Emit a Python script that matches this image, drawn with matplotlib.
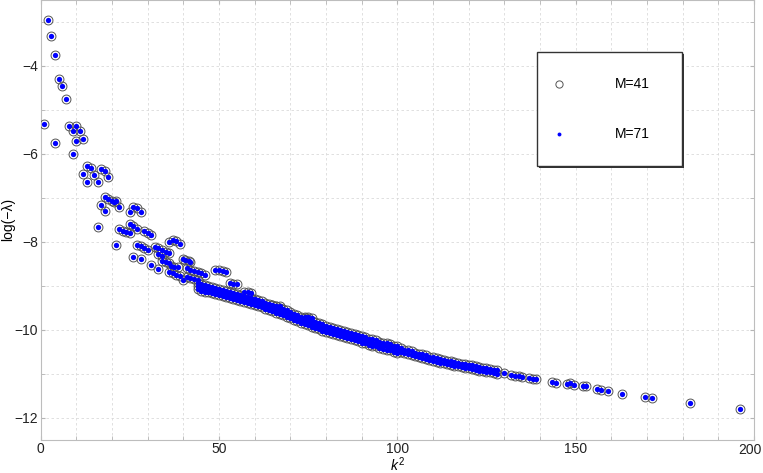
import numpy as np
import matplotlib.pyplot as plt
from matplotlib.patches import Rectangle
from matplotlib.ticker import MultipleLocator

plt.rcParams['font.family'] = ['Liberation Sans', 'DejaVu Sans']
plt.rcParams['mathtext.fontset'] = 'custom'
plt.rcParams['mathtext.rm'] = 'Liberation Sans'
plt.rcParams['mathtext.it'] = 'Liberation Sans:italic'

# isolated points, small k^2
top_k2 = [1, 2, 3, 4, 4, 5, 6, 7, 8, 9, 9, 10, 10, 11, 12]
top_logl = [-5.33, -2.96, -3.33, -3.75, -5.75, -4.29, -4.46, -4.76, -5.37, -5.47, -6.00, -5.36, -5.71, -5.47, -5.67]

# clusters between -6.2 and -7.9
mid_k2 = [12, 13, 13, 14, 15, 16, 17, 18, 19,
          17, 18, 19, 20, 20.5, 21, 22, 18,
          16, 25, 26, 27, 28,
          22, 23, 24, 25, 25, 26, 27, 29, 30, 31]
mid_logl = [-6.46, -6.27, -6.65, -6.33, -6.49, -6.64, -6.35, -6.40, -6.52,
            -7.17, -6.99, -7.03, -7.08, -7.10, -7.08, -7.20, -7.30,
            -7.67, -7.33, -7.20, -7.22, -7.32,
            -7.70, -7.75, -7.77, -7.81, -7.60, -7.63, -7.70, -7.75, -7.79, -7.85]

# clusters between -7.9 and -9.0
low_k2 = [21, 27, 28, 29, 30, 32, 33, 34, 35, 36, 36, 37, 38, 39,
          26, 28, 33, 34, 31, 33, 34, 35, 36, 36.5, 37.5, 38.5,
          36, 37, 38, 39, 40, 40.5, 41.5, 42,
          41, 42, 43, 44, 45, 46, 40, 41, 42, 43, 44, 45]
low_logl = [-8.07, -8.07, -8.10, -8.14, -8.18, -8.11, -8.15, -8.19, -8.23, -8.26, -8.01, -7.96, -7.99, -8.04,
            -8.35, -8.39, -8.28, -8.32, -8.53, -8.61, -8.43, -8.46, -8.49, -8.55, -8.57, -8.58,
            -8.68, -8.72, -8.76, -8.78, -8.39, -8.42, -8.44, -8.46,
            -8.60, -8.63, -8.66, -8.69, -8.72, -8.75, -8.86, -8.80, -8.82, -8.84, -8.87, -9.02]

# small groups sitting above the main band
side_k2 = [49, 50, 51, 52, 53, 54, 55, 57, 58, 59, 65, 66, 67, 74, 75, 76]
side_logl = [-8.65, -8.64, -8.66, -8.68, -8.93, -8.95, -8.97, -9.15, -9.14, -9.17,
             -9.44, -9.45, -9.47, -9.71, -9.72, -9.73]

# dense band k^2 = 44..100
band_k2 = [44, 44, 44, 45, 45, 45, 46, 46, 46, 47, 47, 47, 48, 48, 48,
           49, 49, 49, 50, 50, 50, 51, 51, 51, 52, 52, 52, 53, 53, 53,
           54, 54, 54, 55, 55, 55, 56, 56, 56, 57, 57, 57, 58, 58, 58,
           59, 59, 59, 60, 60, 60, 61, 61, 61, 62, 62, 62, 63, 63, 63,
           64, 64, 64, 65, 65, 65, 66, 66, 66, 67, 67, 67, 68, 68, 68,
           69, 69, 69, 70, 70, 70, 71, 71, 71, 72, 72, 72, 73, 73, 73,
           74, 74, 74, 75, 75, 75, 76, 76, 76, 77, 77, 77, 78, 78, 78,
           79, 79, 79, 80, 80, 80, 81, 81, 81, 82, 82, 82, 83, 83, 83,
           84, 84, 84, 85, 85, 85, 86, 86, 86, 87, 87, 87, 88, 88, 88,
           89, 89, 89, 90, 90, 90, 91, 91, 91, 92, 92, 92, 93, 93, 93,
           94, 94, 94, 95, 95, 95, 96, 96, 96, 97, 97, 97, 98, 98, 98,
           99, 99, 99, 100, 100, 100]
band_logl = [-8.94, -9.01, -9.08, -8.97, -9.04, -9.11, -8.99, -9.06, -9.13, -9.01, -9.08, -9.15, -9.03, -9.10, -9.17,
             -9.05, -9.12, -9.19, -9.07, -9.14, -9.21, -9.09, -9.16, -9.23, -9.12, -9.19, -9.26, -9.14, -9.21, -9.28,
             -9.16, -9.23, -9.30, -9.19, -9.26, -9.33, -9.21, -9.28, -9.35, -9.23, -9.30, -9.37, -9.25, -9.32, -9.39,
             -9.28, -9.35, -9.42, -9.30, -9.37, -9.44, -9.33, -9.40, -9.47, -9.35, -9.42, -9.49, -9.38, -9.45, -9.52,
             -9.41, -9.48, -9.55, -9.44, -9.51, -9.58, -9.47, -9.54, -9.61, -9.50, -9.57, -9.64, -9.53, -9.60, -9.67,
             -9.56, -9.63, -9.70, -9.59, -9.66, -9.73, -9.63, -9.70, -9.77, -9.66, -9.73, -9.80, -9.70, -9.77, -9.84,
             -9.73, -9.80, -9.87, -9.76, -9.83, -9.90, -9.79, -9.86, -9.93, -9.82, -9.89, -9.96, -9.85, -9.92, -9.99,
             -9.88, -9.95, -10.02, -9.91, -9.98, -10.05, -9.93, -10.00, -10.07, -9.96, -10.03, -10.10, -9.98, -10.05, -10.12,
             -10.01, -10.08, -10.15, -10.03, -10.10, -10.17, -10.05, -10.12, -10.19, -10.08, -10.15, -10.22, -10.10, -10.17, -10.24,
             -10.12, -10.19, -10.26, -10.15, -10.22, -10.29, -10.17, -10.24, -10.31, -10.20, -10.27, -10.34, -10.22, -10.29, -10.36,
             -10.24, -10.31, -10.38, -10.27, -10.34, -10.41, -10.29, -10.36, -10.43, -10.31, -10.38, -10.45, -10.33, -10.40, -10.47,
             -10.36, -10.43, -10.50, -10.38, -10.45, -10.52]

# thinner band k^2 = 101..128
thin_k2 = [101, 101, 102, 102, 103, 103, 104, 104, 105, 105, 106, 106, 107, 107,
           108, 108, 109, 109, 110, 110, 111, 111, 112, 112, 113, 113, 114, 114,
           115, 115, 116, 116, 117, 117, 118, 118, 119, 119, 120, 120, 121, 121,
           122, 122, 123, 123, 124, 124, 125, 125, 126, 126, 127, 127, 128, 128]
thin_logl = [-10.42, -10.50, -10.45, -10.53, -10.47, -10.55, -10.49, -10.57, -10.52, -10.60, -10.54, -10.62, -10.56, -10.64,
             -10.58, -10.66, -10.61, -10.69, -10.63, -10.71, -10.65, -10.73, -10.67, -10.75, -10.68, -10.76, -10.70, -10.78,
             -10.72, -10.80, -10.74, -10.82, -10.75, -10.83, -10.77, -10.85, -10.78, -10.86, -10.80, -10.88, -10.81, -10.89,
             -10.83, -10.91, -10.85, -10.93, -10.86, -10.94, -10.88, -10.96, -10.89, -10.97, -10.91, -10.99, -10.92, -11.00]

# sparse tail
tail_k2 = [130, 132, 133, 134, 135, 137, 138, 139, 143.5, 144.5, 147.5, 148.5, 149.5,
           152, 153, 156, 157, 159, 163, 169.5, 171.5, 182, 196]
tail_logl = [-10.99, -11.03, -11.05, -11.04, -11.07, -11.10, -11.11, -11.13, -11.18, -11.20, -11.23, -11.22, -11.26,
             -11.28, -11.28, -11.35, -11.37, -11.39, -11.45, -11.54, -11.55, -11.67, -11.80]

xtick_vals = [0, 50, 100, 150, 200]
xtick_text = ['0', '50', '100', '150', '200']

k2 = np.concatenate([top_k2, mid_k2, low_k2, side_k2, band_k2, thin_k2, tail_k2])
logl = np.concatenate([top_logl, mid_logl, low_logl, side_logl, band_logl, thin_logl, tail_logl])

fig = plt.figure(figsize=(7.63, 4.73), dpi=100)
ax = fig.add_axes([0.0533, 0.0704, 0.9349, 0.9296])

# M=41 (rings) and M=71 (dots) fall on the same points
ax.plot(k2, logl, 'o', ms=6.4, mfc='none', mec='#555555', mew=0.7, zorder=3)
ax.plot(k2, logl, 'o', ms=3.8, mfc='#0000ff', mec='#0000ff', mew=0, zorder=4)

ax.set_xlim(0, 200)
ax.set_ylim(-12.5, -2.5)
# last x label is drawn separately so it stays inside the picture
ax.set_xticks(xtick_vals)
ax.set_xticklabels(xtick_text[:-1] + [''])
ax.xaxis.set_minor_locator(MultipleLocator(10))
ax.yaxis.set_major_locator(MultipleLocator(2))
ax.yaxis.set_minor_locator(MultipleLocator(1))
ax.grid(which='both', color='#dadada', lw=0.6, ls=(0, (3, 3)), zorder=0)
ax.tick_params(which='both', direction='in', length=3, color='#b5b5b5',
               labelsize=10, labelcolor='#222222', pad=2, top=True, right=True)
for s in ax.spines.values():
    s.set_color('#bdbdbd')
    s.set_linewidth(0.8)
ax.text(1.0112, -2.8 / 439.7, xtick_text[-1], transform=ax.transAxes,
        ha='right', va='top', fontsize=10, color='#222222')

ax.set_xlabel('$k^2$', fontsize=10)
ax.xaxis.set_label_coords(0.5, -0.036)
ax.set_ylabel('log(−λ)', fontsize=10)
ax.yaxis.set_label_coords(-0.036, 0.5)

# legend box drawn by hand, MATLAB style
x0, y0, w, h = 0.6954, 0.6225, 0.2032, 0.2599
ax.add_patch(Rectangle((x0 + 0.003, y0 - 0.0045), w, h, transform=ax.transAxes,
                       fc='#333333', ec='none', zorder=9))
ax.add_patch(Rectangle((x0, y0), w, h, transform=ax.transAxes,
                       fc='white', ec='#333333', lw=1.0, zorder=10))
ax.plot([0.7266], [0.8097], 'o', ms=5.2, mfc='none', mec='#555555', mew=0.7,
        transform=ax.transAxes, zorder=11, clip_on=False)
ax.plot([0.7266], [0.6959], 'o', ms=2.8, mfc='#0000ff', mec='#0000ff', mew=0,
        transform=ax.transAxes, zorder=11, clip_on=False)
ax.text(0.8051, 0.8097, 'M=41', transform=ax.transAxes, fontsize=10,
        va='center', ha='left', zorder=11)
ax.text(0.8051, 0.6959, 'M=71', transform=ax.transAxes, fontsize=10,
        va='center', ha='left', zorder=11)

fig.savefig('out.png', dpi=100)
